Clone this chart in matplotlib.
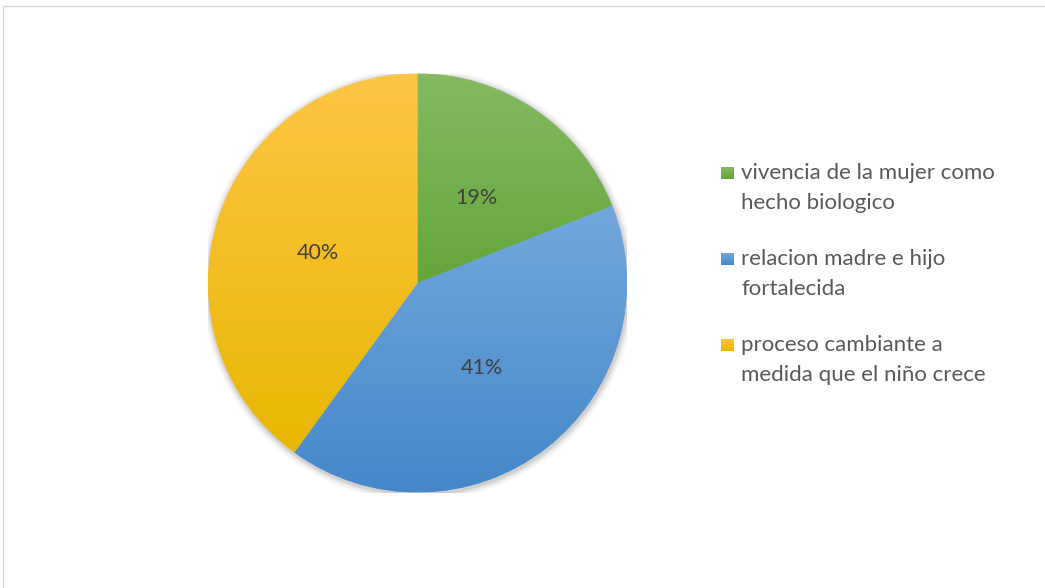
import numpy as np
import matplotlib
matplotlib.use("Agg")
import matplotlib.pyplot as plt
from matplotlib.patches import Rectangle, Circle
from matplotlib.colors import LinearSegmentedColormap

# Survey answers and their shares (percent)
categories = [
    "vivencia de la mujer como\nhecho biologico",
    "relacion madre e hijo\nfortalecida",
    "proceso cambiante a\nmedida que el niño crece",
]
shares = [19, 41, 40]
# top (light) and bottom (dark) tone of each slice's vertical gradient
top_colors = ["#84BB62", "#72A7DC", "#FFC546"]
bottom_colors = ["#64A53A", "#4488CA", "#E8B700"]

plt.rcParams["font.family"] = ["Lato", "DejaVu Sans"]

W, H = 1045, 588
fig = plt.figure(figsize=(W / 100, H / 100), dpi=100)
fig.patch.set_facecolor("white")

# chart-area frame
fig.add_artist(Rectangle((2.5 / W, -0.05), 1.1, (H - 5.5) / H + 0.05,
                         transform=fig.transFigure, fill=False,
                         edgecolor="#D9D9D9", linewidth=1.0))

cx, cy, r = 417.5, 283.0, 209.5
ax = fig.add_axes([(cx - r) / W, (H - cy - r) / H, 2 * r / W, 2 * r / H])
ax.set_xlim(-1, 1)
ax.set_ylim(-1, 1)
ax.set_aspect("equal")
ax.axis("off")

# soft shadow around the disc
for k, a in enumerate(np.linspace(0.05, 0.01, 6)):
    ax.add_patch(Circle((0.004, -0.008), 1.0 + 0.006 * (k + 1), facecolor="black",
                        alpha=a, edgecolor="none", zorder=0))

wedges, texts, autotexts = ax.pie(
    shares, startangle=90, counterclock=False, radius=1.0,
    colors=top_colors, autopct=lambda p: f"{p:.0f}%", pctdistance=0.5,
    textprops=dict(color="#404040", fontsize=15.5),
    wedgeprops=dict(linewidth=0),
)
for t in autotexts:
    t.set_zorder(5)
    t.set_va("center_baseline")

# vertical gradient fill for each slice
for w, c0, c1 in zip(wedges, top_colors, bottom_colors):
    verts = w.get_path().vertices
    x0, x1 = verts[:, 0].min(), verts[:, 0].max()
    y0, y1 = verts[:, 1].min(), verts[:, 1].max()
    cmap = LinearSegmentedColormap.from_list("g", [c1, c0])
    grad = np.linspace(0, 1, 256).reshape(-1, 1)
    im = ax.imshow(grad, cmap=cmap, origin="lower", extent=[x0, x1, y0, y1],
                   aspect="auto", zorder=2, interpolation="bicubic")
    im.set_clip_path(w)
    w.set_zorder(1)
ax.set_xlim(-1, 1)
ax.set_ylim(-1, 1)

# legend: square swatch aligned with the first text line of each entry
first_baselines = [179, 265, 351]
line_step = 30
for lab, c0, c1, yb in zip(categories, top_colors, bottom_colors, first_baselines):
    sw = fig.add_axes([721 / W, (H - yb) / H, 12.5 / W, 12 / H])
    sw.imshow(np.linspace(0, 1, 32).reshape(-1, 1),
              cmap=LinearSegmentedColormap.from_list("s", [c0, c1]),
              aspect="auto", extent=[0, 1, 0, 1])
    sw.axis("off")
    for i, line in enumerate(lab.split("\n")):
        fig.text(741 / W, (H - yb - i * line_step) / H, line, fontsize=16,
                 color="#595959", va="baseline", ha="left")

fig.savefig("out.png", dpi=100, facecolor="white")
